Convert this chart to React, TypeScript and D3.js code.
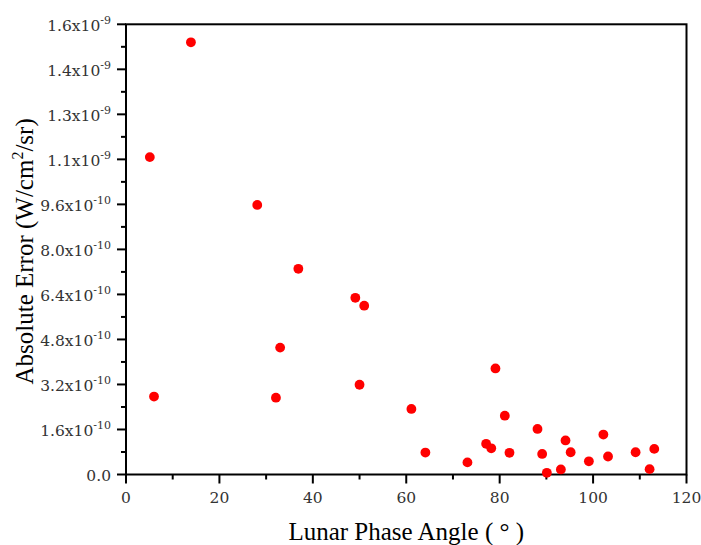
import React from "react";
import * as d3 from "d3";

const phaseAngles = [5.1, 13.9, 6.0, 28.1, 36.9, 33.0, 32.1, 49.1, 51.0, 50.0, 61.1, 64.1, 79.1, 81.1, 73.1, 77.1, 78.2, 82.1, 88.1, 89.1, 90.1, 93.1, 94.1, 95.2, 99.1, 102.2, 103.2, 109.1, 112.1, 113.1];
const absErrors = [1.128e-9, 1.536e-9, 0.277e-9, 0.958e-9, 0.731e-9, 0.451e-9, 0.273e-9, 0.628e-9, 0.6e-9, 0.319e-9, 0.233e-9, 0.078e-9, 0.377e-9, 0.209e-9, 0.043e-9, 0.109e-9, 0.093e-9, 0.077e-9, 0.162e-9, 0.073e-9, 0.006e-9, 0.018e-9, 0.121e-9, 0.079e-9, 0.047e-9, 0.142e-9, 0.064e-9, 0.079e-9, 0.019e-9, 0.091e-9];

const xTicks = [0, 20, 40, 60, 80, 100, 120];
const xMinorTicks = [10, 30, 50, 70, 90, 110];
const yTicks = [0, 1.6e-10, 3.2e-10, 4.8e-10, 6.4e-10, 8.0e-10, 9.6e-10, 1.12e-9, 1.28e-9, 1.44e-9, 1.6e-9];
const yTickMantissa = ["0.0", "1.6", "3.2", "4.8", "6.4", "8.0", "9.6", "1.1", "1.3", "1.4", "1.6"];
const yTickExponent = ["", "-10", "-10", "-10", "-10", "-10", "-10", "-9", "-9", "-9", "-9"];

const W = 701, H = 545;
const L = 126, R = 686.5, T = 24.3, B = 474.5;

export default function App() {
  const x = d3.scaleLinear().domain([0, 120]).range([L, R]);
  const y = d3.scaleLinear().domain([0, 1.6e-9]).range([B, T]);
  const yMinor = yTicks.slice(0, -1).map((v, i) => (v + yTicks[i + 1]) / 2);
  const tickFont = "'DejaVu Serif', serif";
  const titleFont = "'Liberation Serif', serif";
  const tickColor = "#333";
  return (
    <svg width={W} height={H} style={{ position: "absolute", left: 0, top: 0 }}>
      <rect x={0} y={0} width={W} height={H} fill="#fff" />
      {/* frame */}
      <rect x={L} y={T} width={R - L} height={B - T} fill="none" stroke="#000" strokeWidth={2} />
      {/* x ticks */}
      {xTicks.map((t) => (
        <g key={"xt" + t}>
          <line x1={x(t)} x2={x(t)} y1={B} y2={B + 9} stroke="#000" strokeWidth={2} />
          <text x={x(t)} y={503} textAnchor="middle" fontFamily={tickFont} fontSize={15.5} fill={tickColor}>{t}</text>
        </g>
      ))}
      {xMinorTicks.map((t) => (
        <line key={"xm" + t} x1={x(t)} x2={x(t)} y1={B} y2={B + 5} stroke="#000" strokeWidth={2} />
      ))}
      {/* y ticks */}
      {yTicks.map((t, i) => (
        <g key={"yt" + i}>
          <line x1={L - 9} x2={L} y1={y(t)} y2={y(t)} stroke="#000" strokeWidth={2} />
          <text x={111} y={y(t) + 6.4} textAnchor="end" fontFamily={tickFont} fontSize={15.5} fill={tickColor}>
            {yTickMantissa[i]}
            {yTickExponent[i] ? "x10" : ""}
            {yTickExponent[i] ? (
              <tspan fontSize={11} dy={-7}>{yTickExponent[i]}</tspan>
            ) : null}
          </text>
        </g>
      ))}
      {yMinor.map((t, i) => (
        <line key={"ym" + i} x1={L - 5} x2={L} y1={y(t)} y2={y(t)} stroke="#000" strokeWidth={2} />
      ))}
      {/* points */}
      {phaseAngles.map((a, i) => (
        <circle key={"p" + i} cx={x(a)} cy={y(absErrors[i])} r={4.9} fill="#ff0000" />
      ))}
      {/* titles */}
      <text x={(L + R) / 2} y={540} textAnchor="middle" fontFamily={titleFont} fontSize={25} fill="#000">
        Lunar Phase Angle ( ° )
      </text>
      <text transform={`translate(33, ${(T + B) / 2 + 2}) rotate(-90)`} textAnchor="middle" fontFamily={titleFont} fontSize={25} fill="#000">
        Absolute Error (W/cm<tspan fontSize={16} dy={-10}>2</tspan><tspan dy={10}>/sr)</tspan>
      </text>
    </svg>
  );
}
